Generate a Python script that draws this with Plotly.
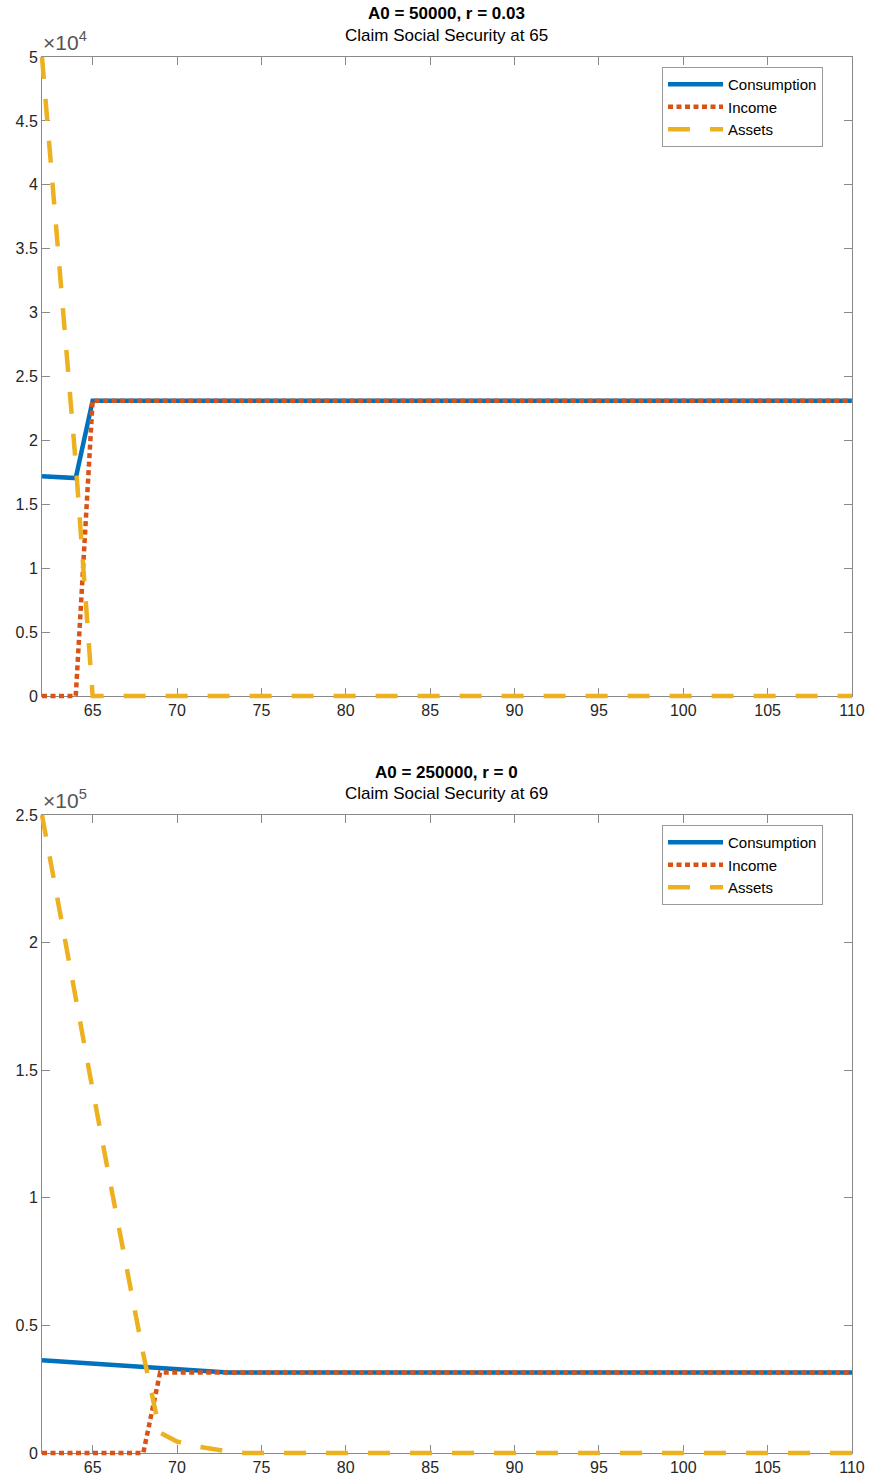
import plotly.graph_objects as go

W, H = 872, 1482

# ---------------- data ----------------
ages = list(range(62, 111))

# Top panel: A0 = 50000, r = 0.03, claim at 65
top_consumption = [17200, 17150, 17050] + [23100] * 46
top_income = [0, 0, 0] + [23100] * 46
top_assets = [50000, 34300, 18200] + [0] * 46

# Bottom panel: A0 = 250000, r = 0, claim at 69
bot_consumption = [36300, 35860, 35430, 34990, 34550, 34120, 33680, 33250,
                   32810, 32370, 31940, 31500] + [31500] * 37
bot_income = [0, 0, 0, 0, 0, 0, 0] + [31500] * 42
bot_assets = [250000, 213700, 177800, 142400, 107400, 72900, 38800, 8000,
              4500, 2800, 1500, 600] + [0] * 37

x_ticks = [65, 70, 75, 80, 85, 90, 95, 100, 105, 110]
top_yticks = [0, 5000, 10000, 15000, 20000, 25000, 30000, 35000, 40000, 45000, 50000]
top_yticklabels = ["0", "0.5", "1", "1.5", "2", "2.5", "3", "3.5", "4", "4.5", "5"]
bot_yticks = [0, 50000, 100000, 150000, 200000, 250000]
bot_yticklabels = ["0", "0.5", "1", "1.5", "2", "2.5"]

titles = ["A0 = 50000, r = 0.03", "A0 = 250000, r = 0"]
subtitles = ["Claim Social Security at 65", "Claim Social Security at 69"]
exponents = ["×10<sup>4</sup>", "×10<sup>5</sup>"]
names = ["Consumption", "Income", "Assets"]

# ---------------- style ----------------
BLUE, ORANGE, YELLOW = "#0072BD", "#D95319", "#EDB120"
AX = "#8a8a8a"
TXT = "#262626"
FONT = "Liberation Sans, Arial, sans-serif"

# axes boxes in window pixels (left, right, top, bottom)
panels = [
    dict(l=42, r=852, t=57, b=696, yr=(0, 50000), yt=top_yticks, yl=top_yticklabels,
         data=(top_consumption, top_income, top_assets), leg_top=67),
    dict(l=42, r=852, t=815, b=1453, yr=(0, 250000), yt=bot_yticks, yl=bot_yticklabels,
         data=(bot_consumption, bot_income, bot_assets), leg_top=825),
]
xr = (62, 110)
PAD = 5  # px of extra room so thick lines on the box edges are not clipped


def px_x(v):
    return v / W


def px_y(v):
    return 1 - v / H


def key(a, n):
    return a + ("" if n == 1 else str(n))


fig = go.Figure()
layout = {}
annotations = []

for i, p in enumerate(panels):
    vis = 2 * i + 1        # visible axis ids: 1, 3
    dat = 2 * i + 2        # data axis ids: 2, 4
    ux = (xr[1] - xr[0]) / (p["r"] - p["l"])
    uy = (p["yr"][1] - p["yr"][0]) / (p["b"] - p["t"])

    layout[key("xaxis", vis)] = dict(
        domain=[px_x(p["l"]), px_x(p["r"])], range=list(xr), anchor=key("y", vis),
        tickvals=x_ticks, ticks="inside", ticklen=8, tickcolor=AX, showline=True,
        linecolor=AX, linewidth=1, mirror="allticks", showgrid=False, zeroline=False,
        automargin=False, tickfont=dict(family=FONT, size=16, color=TXT), fixedrange=True)
    layout[key("yaxis", vis)] = dict(
        domain=[px_y(p["b"]), px_y(p["t"])], range=list(p["yr"]), anchor=key("x", vis),
        tickvals=p["yt"], ticktext=p["yl"], ticks="inside", ticklen=8, tickcolor=AX,
        showline=True, linecolor=AX, linewidth=1, mirror="allticks", showgrid=False,
        zeroline=False, automargin=False,
        tickfont=dict(family=FONT, size=16, color=TXT), fixedrange=True)
    layout[key("xaxis", dat)] = dict(
        domain=[px_x(p["l"] - PAD), px_x(p["r"] + PAD)],
        range=[xr[0] - PAD * ux, xr[1] + PAD * ux], anchor=key("y", dat),
        visible=False, automargin=False, fixedrange=True)
    layout[key("yaxis", dat)] = dict(
        domain=[px_y(p["b"] + PAD), px_y(p["t"] - PAD)],
        range=[p["yr"][0] - PAD * uy, p["yr"][1] + PAD * uy], anchor=key("x", dat),
        visible=False, automargin=False, fixedrange=True)

    # invisible trace so the visible axes render
    fig.add_trace(go.Scatter(x=[xr[0]], y=[p["yr"][0]], xaxis=key("x", vis),
                             yaxis=key("y", vis), mode="markers",
                             marker=dict(opacity=0), showlegend=False,
                             hoverinfo="skip"))

    cons, inc, ast = p["data"]
    leg = "legend" if i == 0 else "legend2"
    styles = [dict(color=BLUE, width=4.5),
              dict(color=ORANGE, width=4.5, dash="5px,3.5px"),
              dict(color=YELLOW, width=4.5, dash="22px,20px")]
    for nm, ys, st in zip(names, (cons, inc, ast), styles):
        fig.add_trace(go.Scatter(x=ages, y=ys, name=nm, mode="lines", line=st,
                                 xaxis=key("x", dat), yaxis=key("y", dat),
                                 legend=leg, showlegend=True))

    cx = px_x((p["l"] + p["r"]) / 2)
    annotations.append(dict(text="<b>" + titles[i] + "</b>", x=cx, y=px_y(p["t"] - 43),
                            xref="paper", yref="paper", showarrow=False,
                            xanchor="center", yanchor="middle",
                            font=dict(family=FONT, size=17, color="#000")))
    annotations.append(dict(text=subtitles[i], x=cx, y=px_y(p["t"] - 22),
                            xref="paper", yref="paper", showarrow=False,
                            xanchor="center", yanchor="middle",
                            font=dict(family=FONT, size=17, color="#000")))
    annotations.append(dict(text=exponents[i], x=px_x(p["l"] - 1), y=px_y(p["t"] - 1),
                            xref="paper", yref="paper", showarrow=False,
                            xanchor="left", yanchor="bottom",
                            font=dict(family=FONT, size=21, color="#555")))

legend_common = dict(xanchor="left", yanchor="top", bgcolor="white",
                     bordercolor="#9a9a9a", borderwidth=1, itemwidth=55,
                     font=dict(family=FONT, size=15, color="#000"),
                     tracegroupgap=0)
layout["legend"] = dict(x=px_x(662), y=px_y(panels[0]["leg_top"]), **legend_common)
layout["legend2"] = dict(x=px_x(662), y=px_y(panels[1]["leg_top"]), **legend_common)

fig.update_layout(**layout)
fig.update_layout(width=W, height=H, margin=dict(l=0, r=0, t=0, b=0, autoexpand=False),
                  paper_bgcolor="white", plot_bgcolor="rgba(0,0,0,0)",
                  annotations=annotations, showlegend=True)

# remove the page's default 8px body margin so the figure fills the window exactly
fig.write_html("out.html",
               config={"displayModeBar": False, "staticPlot": True},
               post_script="document.body.style.margin='0px';"
                           "document.body.style.overflow='hidden';")
